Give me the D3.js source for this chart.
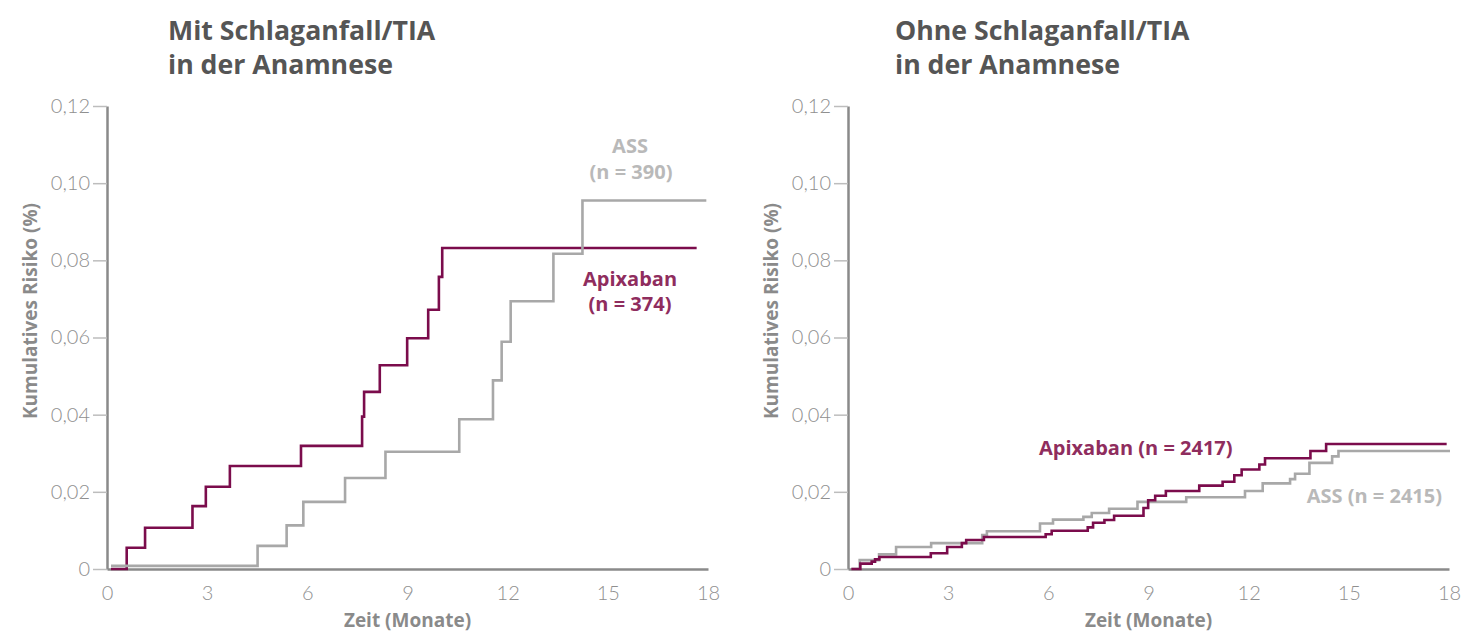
<!DOCTYPE html>
<html><head><meta charset="utf-8">
<script src="https://cdn.jsdelivr.net/npm/d3@7"></script>
<style>
html,body{margin:0;padding:0;background:#fff;}
svg{display:block;}
</style></head>
<body>
<script>
// ---- data ----
const xTicks = [0, 3, 6, 9, 12, 15, 18];
const yTicks = [0, 0.02, 0.04, 0.06, 0.08, 0.10, 0.12];
const yTickLabels = ["0", "0,02", "0,04", "0,06", "0,08", "0,10", "0,12"];

const titles = [["Mit Schlaganfall/TIA", "in der Anamnese"], ["Ohne Schlaganfall/TIA", "in der Anamnese"]];
const xAxisTitle = "Zeit (Monate)";
const yAxisTitle = "Kumulatives Risiko (%)";

// left panel (with stroke/TIA)
const leftApixT = [0.12, 0.59, 1.14, 2.56, 2.96, 3.68, 5.81, 7.64, 7.70, 8.17, 8.99, 9.62, 9.94, 10.04, 17.66];
const leftApixV = [0, 0.0055, 0.0107, 0.0163, 0.0213, 0.0267, 0.0319, 0.0395, 0.0459, 0.0528, 0.0598, 0.0672, 0.0757, 0.0832, 0.0832];
const leftAssT = [0.12, 4.51, 5.38, 5.88, 7.13, 8.34, 10.55, 11.56, 11.82, 12.09, 13.37, 14.24, 17.95];
const leftAssV = [0.0008, 0.0060, 0.0113, 0.0174, 0.0236, 0.0304, 0.0388, 0.0489, 0.0589, 0.0694, 0.0817, 0.0955, 0.0955];

// right panel (without stroke/TIA)
const rightApixT = [0.1, 0.37, 0.71, 0.81, 0.94, 2.48, 2.97, 3.41, 3.54, 4.07, 5.92, 6.1, 7.18, 7.34, 7.68, 7.97, 8.85, 8.99, 9.2, 9.52, 10.52, 11.22, 11.57, 11.79, 12.32, 12.49, 13.85, 14.32, 17.93];
const rightApixV = [0, 0.0014, 0.0019, 0.0025, 0.0031, 0.0041, 0.0057, 0.0067, 0.0075, 0.0083, 0.0090, 0.0099, 0.0108, 0.0120, 0.0127, 0.0138, 0.0158, 0.0178, 0.0190, 0.0202, 0.0216, 0.0226, 0.0243, 0.0258, 0.0271, 0.0287, 0.0306, 0.0324, 0.0324];
const rightAssT = [0.1, 0.35, 0.93, 1.44, 2.49, 4.02, 4.16, 5.75, 6.14, 7.05, 7.3, 7.82, 8.67, 10.13, 11.89, 12.42, 13.24, 13.39, 13.82, 14.5, 14.69, 18.03];
const rightAssV = [0, 0.0023, 0.0038, 0.0057, 0.0067, 0.0088, 0.0098, 0.0118, 0.0128, 0.0135, 0.0145, 0.0156, 0.0174, 0.0186, 0.0202, 0.0222, 0.0233, 0.0247, 0.0275, 0.0292, 0.0306, 0.0306];

const leftLabels = [["Apixaban", "(n = 374)"], ["ASS", "(n = 390)"]];
const rightLabels = ["Apixaban (n = 2417)", "ASS (n = 2415)"];

// ---- styling ----
const W = 1462, H = 634;
const cApix = "#7b0c4c", cApixText = "#8f2d5e";
const cAss = "#a8a8a8", cAssText = "#b9b9b9";
const titleFont = "'Open Sans', 'Noto Sans', sans-serif";
const tickFont = "Lato, 'Liberation Sans Narrow', sans-serif";

const svg = d3.select("body").append("svg").attr("width", W).attr("height", H);

function zip(t, v) { return t.map((d, i) => [d, v[i]]); }

const panels = [
  {x0: 107, x1: 708, titleX: 168, ytitleX: 30,
   apix: zip(leftApixT, leftApixV), ass: zip(leftAssT, leftAssV), order: ["apix", "ass"]},
  {x0: 848, x1: 1449, titleX: 895, ytitleX: 771,
   apix: zip(rightApixT, rightApixV), ass: zip(rightAssT, rightAssV), order: ["ass", "apix"]}
];

const yTop = 106, yBot = 569;

panels.forEach((p, pi) => {
  const x = d3.scaleLinear().domain([0, 18]).range([p.x0, p.x1]);
  const y = d3.scaleLinear().domain([0, 0.12]).range([yBot, yTop]);
  const g = svg.append("g");

  // title
  const t = g.append("text")
    .attr("font-family", titleFont).attr("font-weight", 700).attr("font-size", 26.7)
    .attr("fill", "#555");
  t.append("tspan").attr("x", p.titleX).attr("y", 40).text(titles[pi][0]);
  t.append("tspan").attr("x", p.titleX).attr("y", 74).text(titles[pi][1]);

  // y axis
  const ya = g.append("g").attr("transform", `translate(${p.x0},0)`)
    .call(d3.axisLeft(y).tickValues(yTicks).tickFormat((d, i) => yTickLabels[i]).tickSize(14).tickSizeOuter(0).tickPadding(3));
  ya.select(".domain").attr("stroke", "#8a8a8a").attr("stroke-width", 2.5);
  ya.selectAll(".tick line").attr("stroke", "#bdbdbd").attr("stroke-width", 1.5);
  ya.selectAll(".tick text").attr("font-family", tickFont).attr("font-size", 20)
    .attr("fill", "#8f8f8f").attr("font-weight", 300);

  // x axis
  const xa = g.append("g").attr("transform", `translate(0,${yBot})`)
    .call(d3.axisBottom(x).tickValues(xTicks).tickSize(0).tickSizeOuter(0).tickPadding(17));
  xa.select(".domain").attr("stroke", "#8a8a8a").attr("stroke-width", 2.5);
  xa.selectAll(".tick text").attr("font-family", tickFont).attr("font-size", 20)
    .attr("fill", "#8f8f8f").attr("font-weight", 300);

  // axis titles
  g.append("text").attr("x", (p.x0 + p.x1) / 2).attr("y", 627)
    .attr("text-anchor", "middle").attr("font-family", titleFont).attr("font-weight", 700)
    .attr("font-size", 19).attr("fill", "#8a8a8a").text(xAxisTitle);
  g.append("text").attr("transform", `translate(${p.ytitleX},311) rotate(-90)`)
    .attr("text-anchor", "middle").attr("dy", "0.35em").attr("font-family", titleFont).attr("font-weight", 700)
    .attr("font-size", 19).attr("fill", "#8a8a8a").text(yAxisTitle);

  // lines
  const line = d3.line().x(d => x(d[0])).y(d => y(d[1])).curve(d3.curveStepAfter);
  p.order.forEach(k => {
    g.append("path").datum(p[k]).attr("d", line).attr("fill", "none")
      .attr("stroke", k === "apix" ? cApix : cAss).attr("stroke-width", 2.6)
      .attr("stroke-linejoin", "miter").attr("stroke-linecap", "butt");
  });
});

// series labels
const lab = svg.append("g").attr("font-family", titleFont).attr("font-weight", 700).attr("font-size", 20);
lab.append("text").attr("x", 630).attr("y", 153).attr("text-anchor", "middle").attr("fill", cAssText).text(leftLabels[1][0]);
lab.append("text").attr("x", 631).attr("y", 179).attr("text-anchor", "middle").attr("fill", cAssText).text(leftLabels[1][1]);
lab.append("text").attr("x", 630).attr("y", 286).attr("text-anchor", "middle").attr("fill", cApixText).text(leftLabels[0][0]);
lab.append("text").attr("x", 630).attr("y", 311).attr("text-anchor", "middle").attr("fill", cApixText).text(leftLabels[0][1]);
lab.append("text").attr("x", 1039).attr("y", 455).attr("text-anchor", "start").attr("fill", cApixText).text(rightLabels[0]);
lab.append("text").attr("x", 1442).attr("y", 503).attr("text-anchor", "end").attr("fill", cAssText).text(rightLabels[1]);
</script>
</body></html>
